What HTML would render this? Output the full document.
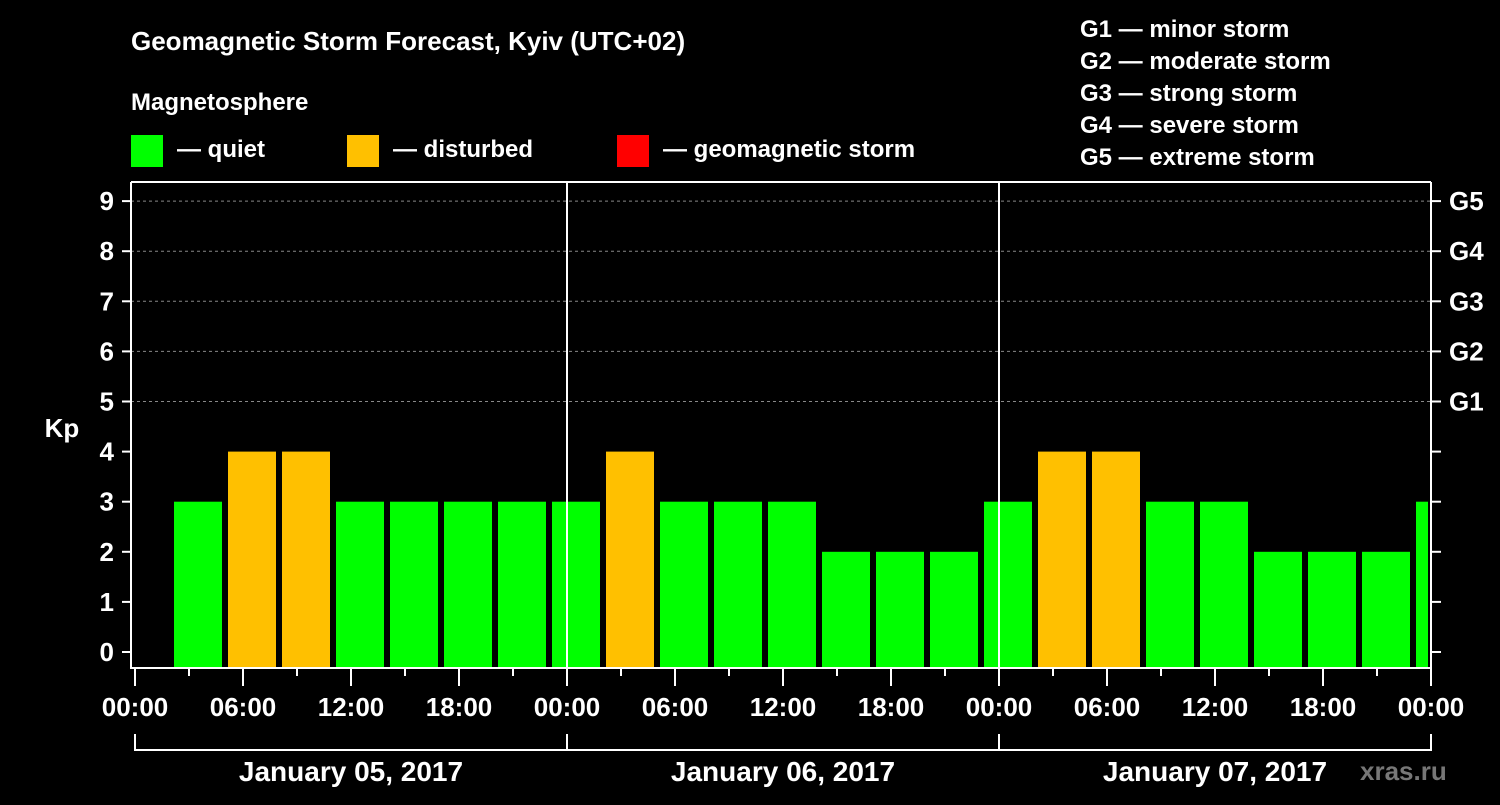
<!DOCTYPE html>
<html><head><meta charset="utf-8"><style>
body{margin:0;background:#000;}
svg text{font-family:"Liberation Sans",sans-serif;font-weight:bold;fill:#fff;}
</style></head><body>
<svg width="1500" height="800" xmlns="http://www.w3.org/2000/svg">
<rect width="1500" height="800" fill="#000"/>
<text x="131" y="50" font-size="26">Geomagnetic Storm Forecast, Kyiv (UTC+02)</text>
<text x="131" y="110" font-size="24">Magnetosphere</text>
<g><rect x="131" y="135" width="32" height="32" fill="#00ff00"/><text x="177" y="157" font-size="24">— quiet</text></g>
<g><rect x="347" y="135" width="32" height="32" fill="#ffc000"/><text x="393" y="157" font-size="24">— disturbed</text></g>
<g><rect x="617" y="135" width="32" height="32" fill="#ff0000"/><text x="663" y="157" font-size="24">— geomagnetic storm</text></g>
<g font-size="24">
<text x="1080" y="37">G1 — minor storm</text>
<text x="1080" y="69">G2 — moderate storm</text>
<text x="1080" y="101">G3 — strong storm</text>
<text x="1080" y="133">G4 — severe storm</text>
<text x="1080" y="165">G5 — extreme storm</text>
</g>
<text x="62" y="437" font-size="26" text-anchor="middle">Kp</text>
<text x="1360" y="780" font-size="26" fill="#666" style="fill:#777">xras.ru</text>
<g id="grid"></g><g id="bars"></g><g id="axes"></g>
</svg>
<script>
const kpValues=[3,4,4,3,3,3,3,3,4,3,3,3,2,2,2,3,4,4,3,3,2,2,2,3];
const dayLabels=["January 05, 2017","January 06, 2017","January 07, 2017"];
const hourLabels=["00:00","06:00","12:00","18:00"];
const gLabels=["G1","G2","G3","G4","G5"];
const NS="http://www.w3.org/2000/svg";
const X0=135,PXH=18,Y0=652,PKP=50.1,TOP=182,BOT=668,RIGHT=1431;
const xh=h=>X0+h*PXH, yk=k=>Y0-k*PKP;
function mk(t,a,p){const e=document.createElementNS(NS,t);for(const k in a)e.setAttribute(k,a[k]);p.appendChild(e);return e;}
const grid=document.getElementById('grid'),bars=document.getElementById('bars'),axes=document.getElementById('axes');
for(let k=5;k<=9;k++){const l=mk('line',{x1:131,x2:RIGHT,y1:yk(k),y2:yk(k),stroke:'#888','stroke-dasharray':'3,3','stroke-width':1},grid);

}
kpValues.forEach((v,i)=>{const s=xh(2+3*i)+3;let e=s+48;if(e>RIGHT-3)e=RIGHT-3;
const col=v>=5?'#ff0000':v>=4?'#ffc000':'#00ff00';
const r=mk('rect',{x:s,y:yk(v),width:Math.max(0,e-s),height:BOT-yk(v),fill:col},bars);

});
// frame
mk('line',{x1:131,x2:131,y1:TOP,y2:BOT+1,stroke:'#fff','stroke-width':2},axes);
mk('line',{x1:131,x2:RIGHT+1,y1:BOT,y2:BOT,stroke:'#fff','stroke-width':2},axes);
mk('line',{x1:RIGHT,x2:RIGHT,y1:TOP,y2:BOT+1,stroke:'#fff','stroke-width':2},axes);
mk('line',{x1:131,x2:RIGHT,y1:TOP,y2:TOP,stroke:'#fff','stroke-width':2},axes);
for(let d=1;d<3;d++)mk('line',{x1:xh(24*d),x2:xh(24*d),y1:TOP,y2:BOT,stroke:'#fff','stroke-width':2},axes);
for(let k=0;k<=9;k++){
mk('line',{x1:122,x2:131,y1:yk(k),y2:yk(k),stroke:'#fff','stroke-width':2},axes);
mk('line',{x1:RIGHT,x2:RIGHT+10,y1:yk(k),y2:yk(k),stroke:'#fff','stroke-width':2},axes);
const t=mk('text',{x:114,y:yk(k)+9,'font-size':26,'text-anchor':'end'},axes);t.textContent=k;


if(k>=5){const g=mk('text',{x:1449,y:yk(k)+9,'font-size':26},axes);g.textContent=gLabels[k-5];

}}
for(let h=0;h<=72;h+=3){const major=h%6===0;
mk('line',{x1:xh(h),x2:xh(h),y1:BOT,y2:BOT+(major?18:8),stroke:'#fff','stroke-width':2},axes);
if(major){const t=mk('text',{x:xh(h),y:716,'font-size':26,'text-anchor':'middle'},axes);t.textContent=hourLabels[(h/6)%4];

}}
mk('line',{x1:X0,x2:RIGHT,y1:750,y2:750,stroke:'#fff','stroke-width':2},axes);
for(let d=0;d<=3;d++)mk('line',{x1:xh(24*d),x2:xh(24*d),y1:734,y2:751,stroke:'#fff','stroke-width':2},axes);
dayLabels.forEach((s,d)=>{const t=mk('text',{x:xh(24*d+12),y:781,'font-size':28,'text-anchor':'middle'},axes);t.textContent=s;

});
</script>
</body></html>
